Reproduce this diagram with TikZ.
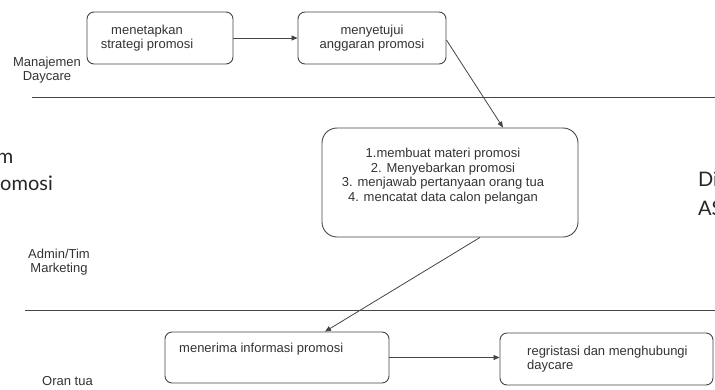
\documentclass[tikz,border=0pt]{standalone}
\usepackage{fontspec}
\setmainfont{Liberation Sans}
\newfontfamily\bigfont{Lato}
\usetikzlibrary{arrows.meta}
\definecolor{linegray}{HTML}{454545}
\definecolor{textgray}{HTML}{333333}
\tikzset{
    actbox/.style={draw=linegray, line width=0.9pt, rounded corners=7pt},
    acttext/.style={text=textgray, font=\fontsize{13}{14.5}\selectfont, align=center, inner sep=0pt},
    bigtext/.style={text=black!85, font=\bigfont\fontsize{20}{28}\selectfont, inner sep=0pt},
    lane/.style={draw=linegray, line width=0.9pt},
    flow/.style={draw=linegray, line width=0.8pt, -{Triangle[length=6pt,width=5pt]}}
}
\begin{document}
\begin{tikzpicture}[x=1pt,y=-1pt]
    \useasboundingbox (0,0) rectangle (715,389);
    % lane dividers
    \draw[lane] (32,97) -- (715,97);
    \draw[lane] (25,310) -- (715,310);
    % lane names
    \node[acttext] (mgmt) at (47,70) {Manajemen\\Daycare};
    \node[acttext] (admin) at (59,262) {Admin/Tim\\Marketing};
    \node[acttext, anchor=west] (ortu) at (42,381) {Oran tua};
    % cut-off text at the sides
    \node[bigtext, anchor=base east] (lefta) at (13.5,163) {m};
    \node[bigtext, anchor=base east] (leftb) at (53,190) {omosi};
    \node[bigtext, anchor=base west] (righta) at (698,186) {Di};
    \node[bigtext, anchor=base west] (rightb) at (698,215) {AS};
    % activities
    \node[actbox, minimum width=146, minimum height=52] (tetap) at (160,38) {};
    \node[acttext] (tetaptxt) at (147,38) {menetapkan\\strategi promosi};
    \node[actbox, acttext, minimum width=148, minimum height=52] (setuju) at (372,38) {menyetujui\\anggaran promosi};
    \node[actbox, rounded corners=15pt, minimum width=256, minimum height=109] (proses) at (450,182.5) {};
    \node[acttext] (prosestxt) at (443,176) {1.membuat materi promosi\\2. Menyebarkan promosi\\3. menjawab pertanyaan orang tua\\4. mencatat data calon pelangan};
    \node[actbox, minimum width=224, minimum height=51] (terima) at (277,357.5) {};
    \node[acttext, anchor=west] (terimatxt) at (179,349) {menerima informasi promosi};
    \node[actbox, minimum width=213, minimum height=52] (regis) at (606.5,359) {};
    \node[acttext, align=left, anchor=west] (registxt) at (527,359) {regristasi dan menghubungi\\daycare};
    % flow
    \draw[flow] (tetap) -- (setuju);
    \draw[flow] ([yshift=-2pt]setuju.east) -- ([xshift=53pt]proses.north);
    \draw[flow] ([xshift=30pt]proses.south) -- ([xshift=48pt]terima.north);
    \draw[flow] (terima.east) -- (terima.east -| regis.west);
\end{tikzpicture}
\end{document}
